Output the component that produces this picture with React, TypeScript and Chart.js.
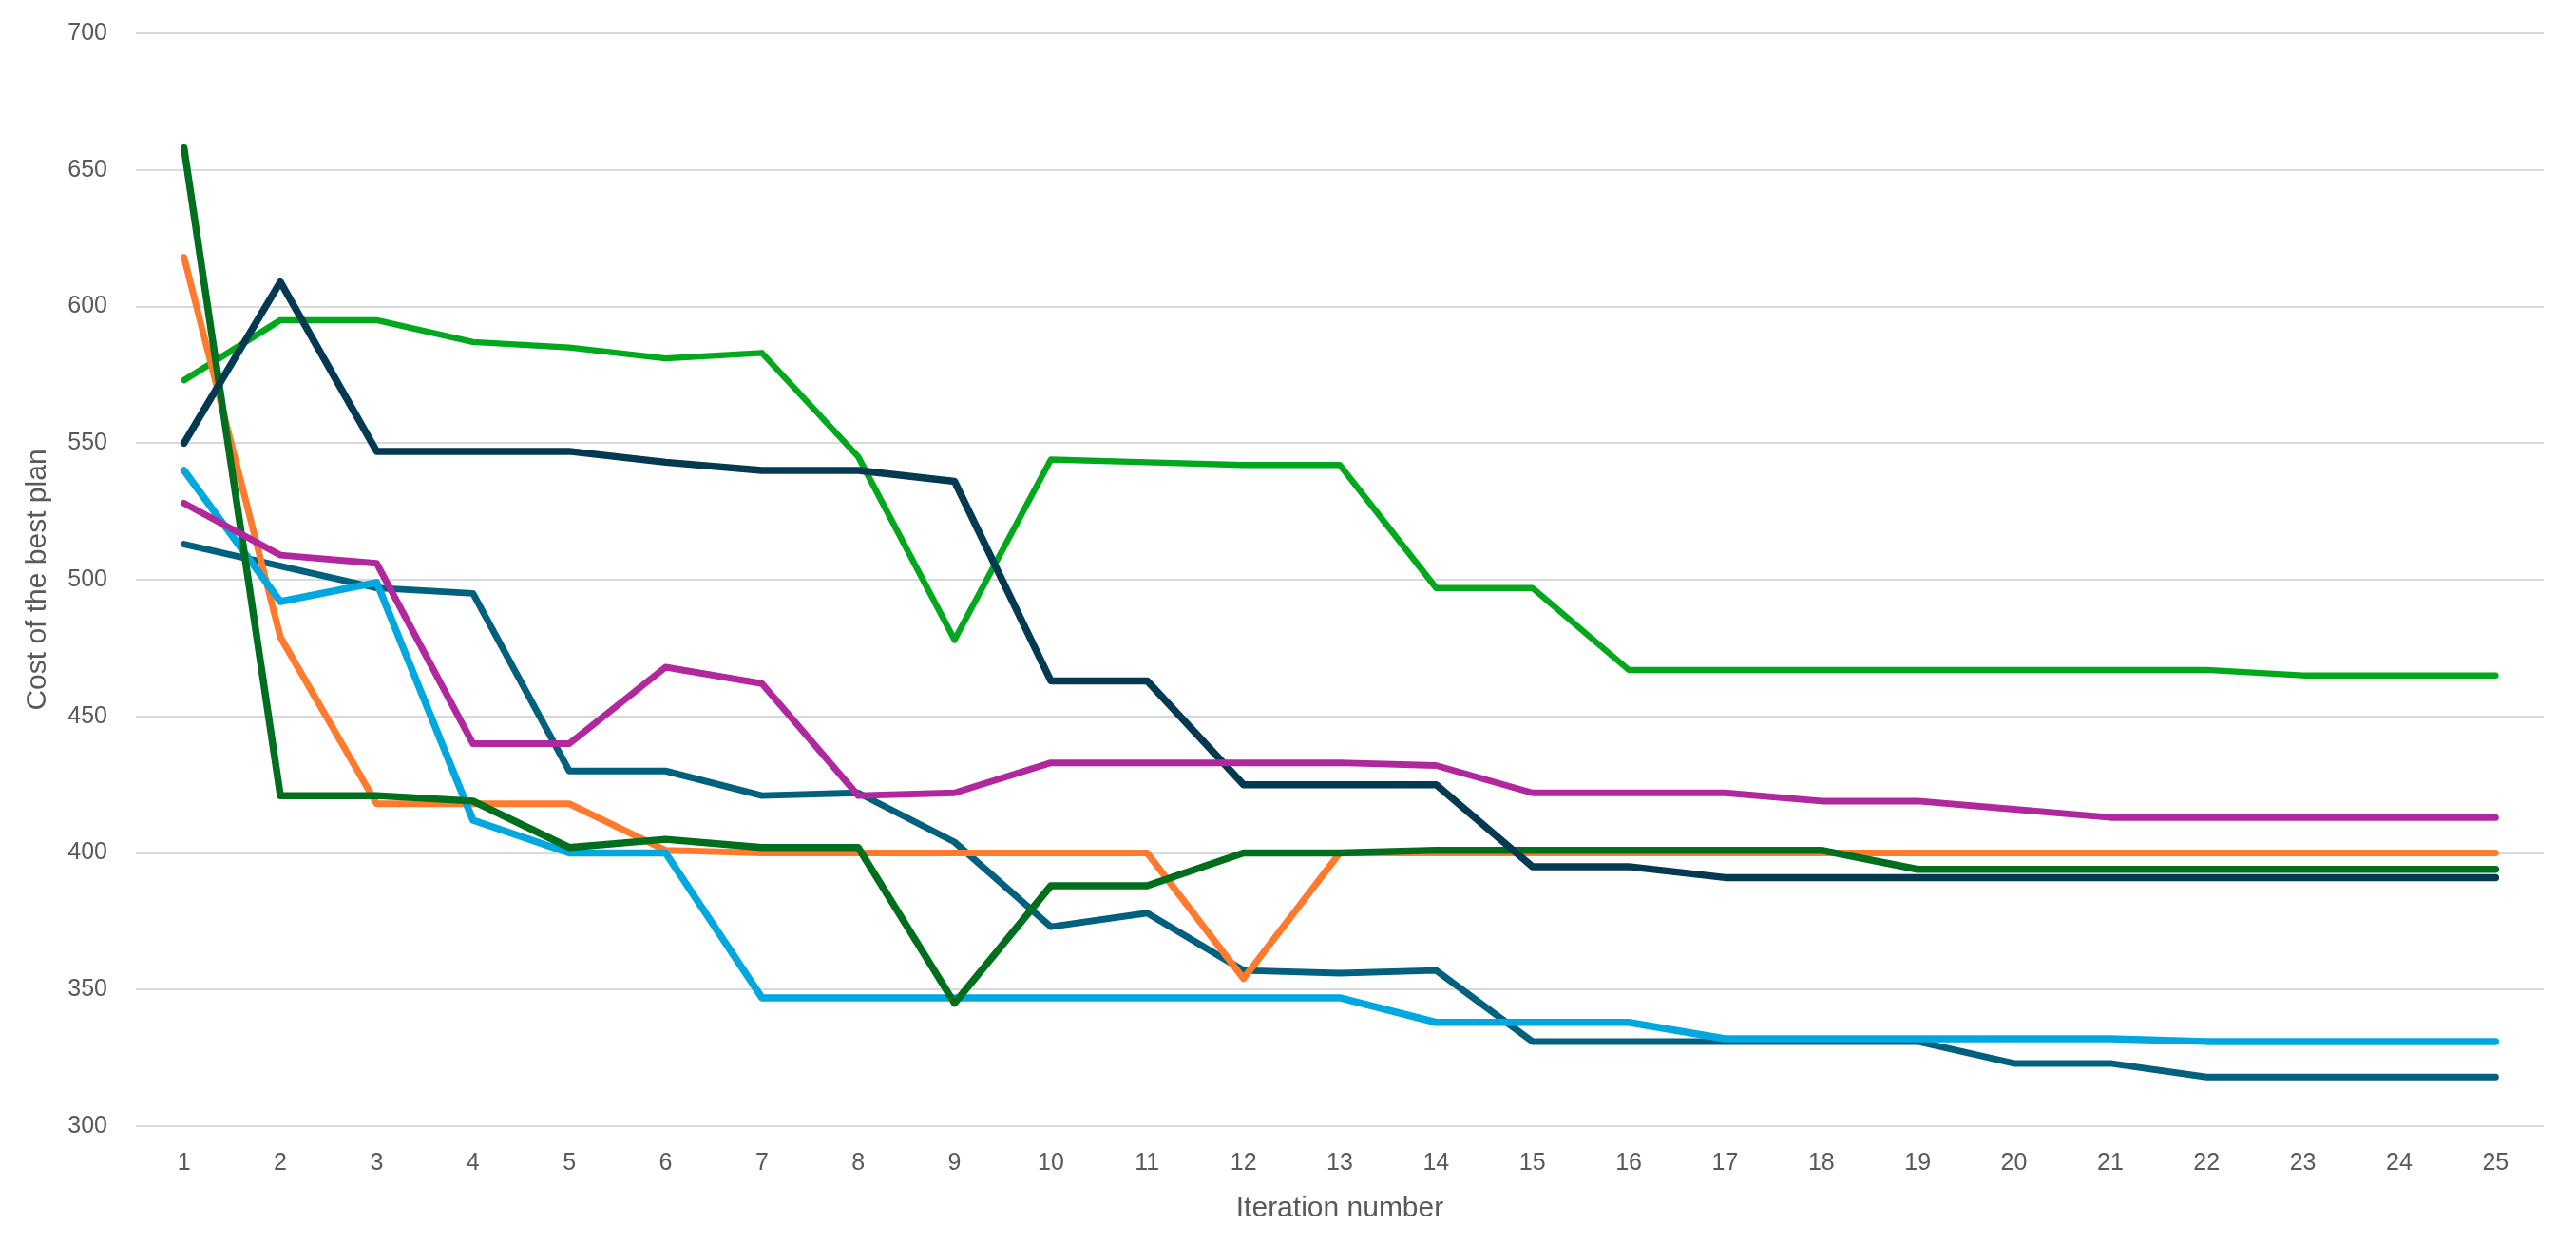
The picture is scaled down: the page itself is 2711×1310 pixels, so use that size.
import React, { useEffect, useRef } from "react";
import { Chart, registerables } from "chart.js";

Chart.register(...registerables);

const iterations = ["1","2","3","4","5","6","7","8","9","10","11","12","13","14","15","16","17","18","19","20","21","22","23","24","25"];

const brightGreen = [573, 595, 595, 587, 585, 581, 583, 545, 478, 544, 543, 542, 542, 497, 497, 467, 467, 467, 467, 467, 467, 467, 465, 465, 465];
const navy = [550, 609, 547, 547, 547, 543, 540, 540, 536, 463, 463, 425, 425, 425, 395, 395, 391, 391, 391, 391, 391, 391, 391, 391, 391];
const orange = [618, 479, 418, 418, 418, 401, 400, 400, 400, 400, 400, 354, 400, 400, 400, 400, 400, 400, 400, 400, 400, 400, 400, 400, 400];
const darkGreen = [658, 421, 421, 419, 402, 405, 402, 402, 345, 388, 388, 400, 400, 401, 401, 401, 401, 401, 394, 394, 394, 394, 394, 394, 394];
const teal = [513, 505, 497, 495, 430, 430, 421, 422, 404, 373, 378, 357, 356, 357, 331, 331, 331, 331, 331, 323, 323, 318, 318, 318, 318];
const lightBlue = [540, 492, 499, 412, 400, 400, 347, 347, 347, 347, 347, 347, 347, 338, 338, 338, 332, 332, 332, 332, 332, 331, 331, 331, 331];
const magenta = [528, 509, 506, 440, 440, 468, 462, 421, 422, 433, 433, 433, 433, 432, 422, 422, 422, 419, 419, 416, 413, 413, 413, 413, 413];

const yTicks = { min: 300, max: 700, step: 50 };

export default function App() {
  const ref = useRef<HTMLCanvasElement | null>(null);

  useEffect(() => {
    if (!ref.current) return;
    const mk = (data: number[], color: string, width = 7) => ({
      data,
      borderColor: color,
      backgroundColor: color,
      borderWidth: width,
      pointRadius: 0,
      pointHoverRadius: 0,
      tension: 0,
      fill: false,
      borderCapStyle: "round" as const,
      borderJoinStyle: "round" as const,
    });
    const chart = new Chart(ref.current, {
      type: "line",
      data: {
        labels: iterations,
        datasets: [
          mk(magenta, "#B1289E"),
          mk(navy, "#033A52", 7.5),
          mk(darkGreen, "#006F1D", 7.5),
          mk(lightBlue, "#00A8DF", 7.5),
          mk(orange, "#FF7A2C"),
          mk(teal, "#02607F"),
          mk(brightGreen, "#00A81C", 6.5),
        ],
      },
      options: {
        responsive: false,
        animation: false,
        maintainAspectRatio: false,
        layout: { padding: { top: 35, right: 34, left: 0, bottom: 0 } },
        plugins: {
          legend: { display: false },
          tooltip: { enabled: false },
          title: { display: false },
        },
        scales: {
          x: {
            type: "category",
            offset: true,
            grid: { display: false, drawTicks: false },
            border: { display: false },
            ticks: {
              color: "#595959",
              font: { family: "'Liberation Sans', Arial, sans-serif", size: 25 },
              padding: 24,
              maxRotation: 0,
              autoSkip: false,
            },
            title: {
              display: true,
              text: "Iteration number",
              color: "#595959",
              font: { family: "'Liberation Sans', Arial, sans-serif", size: 30 },
              padding: { top: 0, bottom: 20 },
            },
            afterFit: (scale: any) => {
              scale.height = 125;
            },
          },
          y: {
            min: yTicks.min,
            max: yTicks.max,
            grid: { color: "#D9D9D9", lineWidth: 2, drawTicks: false },
            border: { display: false },
            ticks: {
              stepSize: yTicks.step,
              color: "#595959",
              font: { family: "'Liberation Sans', Arial, sans-serif", size: 25 },
              padding: 30,
            },
            title: {
              display: true,
              text: "Cost of the best plan",
              color: "#595959",
              font: { family: "'Liberation Sans', Arial, sans-serif", size: 30 },
              padding: { top: 22, bottom: 0 },
            },
            afterFit: (scale: any) => {
              scale.width = 143;
              scale.paddingTop = 0;
              scale.paddingBottom = 0;
            },
          },
        },
      },
    });
    return () => chart.destroy();
  }, []);

  return (
    <div style={{ position: "absolute", left: 0, top: 0, width: 2711, height: 1310, background: "#fff" }}>
      <canvas ref={ref} width={2711} height={1310} style={{ width: 2711, height: 1310, display: "block" }} />
    </div>
  );
}
